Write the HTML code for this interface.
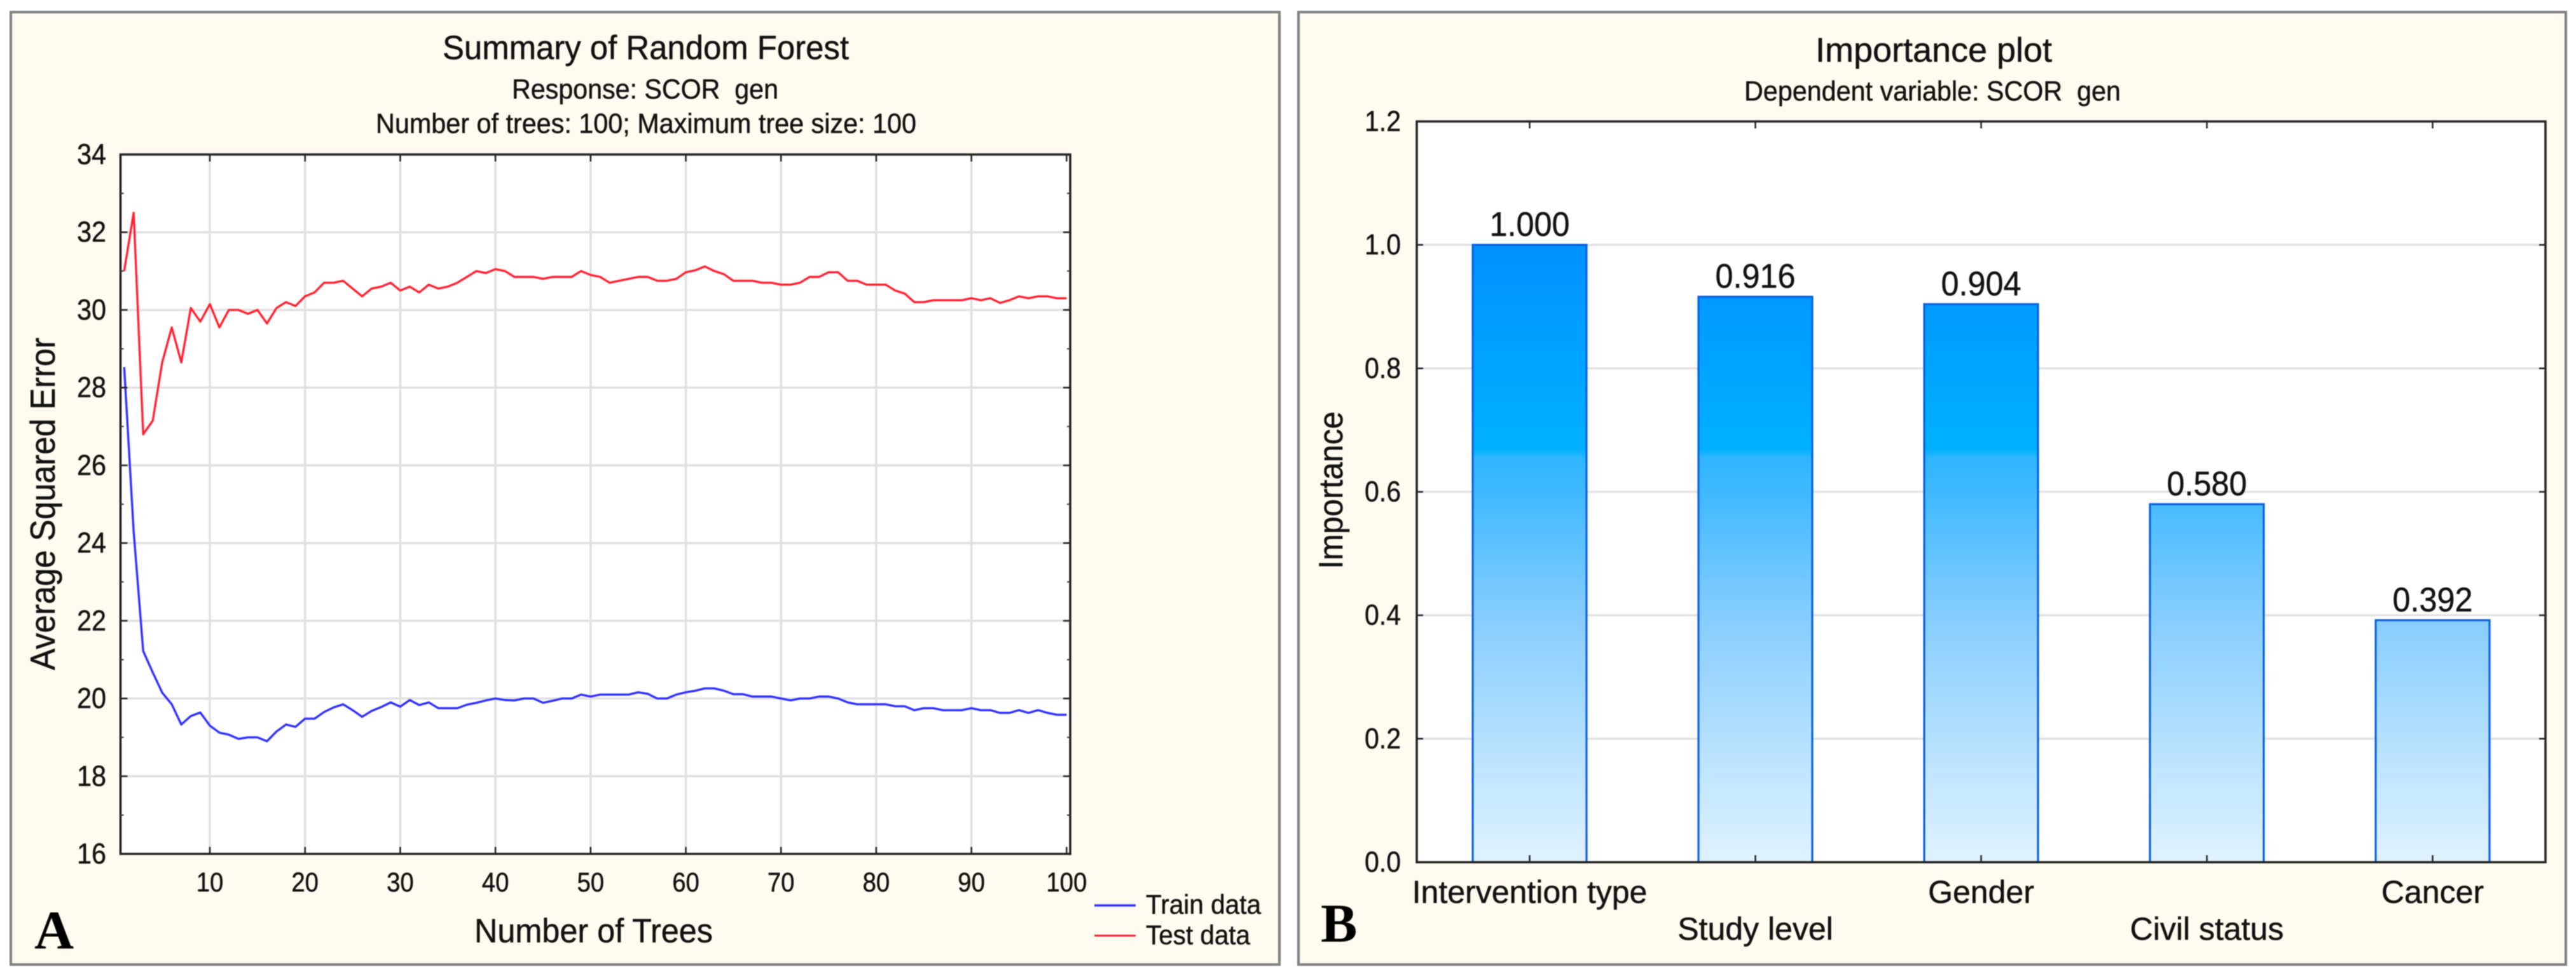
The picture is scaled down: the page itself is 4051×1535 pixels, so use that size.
<!DOCTYPE html>
<html lang="en">
<head>
<meta charset="utf-8">
<title>Random Forest Summary and Importance Plot</title>
<style>
html,body{margin:0;padding:0;background:#fff;width:4051px;height:1535px;overflow:hidden}
svg{display:block;filter:blur(0.7px)}
text{font-family:"Liberation Sans",Arial,sans-serif;fill:#111;stroke:#111;stroke-width:0.5px;white-space:pre}
.letter{font-family:"Liberation Serif","Times New Roman",serif;font-weight:bold;fill:#000;stroke:none}
</style>
</head>
<body>
<svg id="figure" xmlns="http://www.w3.org/2000/svg" width="4051" height="1535" viewBox="0 0 4051 1535">
  <defs>
    <linearGradient id="barGradient" gradientUnits="userSpaceOnUse" x1="0" y1="386" x2="0" y2="1356">
      <stop offset="0" stop-color="#0090ff"/>
      <stop offset="0.14" stop-color="#009fff"/>
      <stop offset="0.33" stop-color="#00b0ff"/>
      <stop offset="0.345" stop-color="#2fb5ff"/>
      <stop offset="0.40" stop-color="#40b9ff"/>
      <stop offset="0.60" stop-color="#85ccff"/>
      <stop offset="0.80" stop-color="#b4e0ff"/>
      <stop offset="1" stop-color="#e0f2ff"/>
    </linearGradient>
  </defs>

  <rect x="17" y="19" width="1995" height="1498" fill="#fffbf0" stroke="#808080" stroke-width="4"/>
  <rect x="2042" y="19" width="1993" height="1498" fill="#fffbf0" stroke="#808080" stroke-width="4"/>

  <rect x="189.5" y="243" width="1493.5" height="1100" fill="#fff"/>
  <rect x="2228" y="191" width="1775" height="1165" fill="#fff"/>

  <g id="chartA"></g>
  <g id="chartB"></g>

  <text x="696" y="93" font-size="53" textLength="639" lengthAdjust="spacingAndGlyphs">Summary of Random Forest</text>
  <text x="805" y="155" font-size="44" textLength="419" lengthAdjust="spacingAndGlyphs">Response: SCOR  gen</text>
  <text x="591" y="209" font-size="44" textLength="850" lengthAdjust="spacingAndGlyphs">Number of trees: 100; Maximum tree size: 100</text>
  <text transform="translate(86,1054) rotate(-90)" font-size="55" textLength="523" lengthAdjust="spacingAndGlyphs">Average Squared Error</text>
  <text x="746" y="1482" font-size="53" textLength="375" lengthAdjust="spacingAndGlyphs">Number of Trees</text>
  <text class="letter" x="54" y="1492" font-size="86">A</text>

  <g>
    <line x1="1721" x2="1786" y1="1424" y2="1424" stroke="#2f2fff" stroke-width="3.5"/>
    <text x="1802" y="1437" font-size="43" textLength="181" lengthAdjust="spacingAndGlyphs">Train data</text>
    <line x1="1721" x2="1786" y1="1471.5" y2="1471.5" stroke="#ff2233" stroke-width="3"/>
    <text x="1802" y="1485" font-size="43" textLength="164" lengthAdjust="spacingAndGlyphs">Test data</text>
  </g>

  <text x="2855" y="97" font-size="54" textLength="372" lengthAdjust="spacingAndGlyphs">Importance plot</text>
  <text x="2743" y="158" font-size="44" textLength="592" lengthAdjust="spacingAndGlyphs">Dependent variable: SCOR  gen</text>
  <text transform="translate(2111,895) rotate(-90)" font-size="53" textLength="248" lengthAdjust="spacingAndGlyphs">Importance</text>
  <text class="letter" x="2077" y="1481" font-size="86">B</text>
</svg>

<script>
// ---------- Panel A data ----------
const treeCounts = [1,2,3,4,5,6,7,8,9,10,11,12,13,14,15,16,17,18,19,20,21,22,23,24,25,26,27,28,29,30,31,32,33,34,35,36,37,38,39,40,41,42,43,44,45,46,47,48,49,50,51,52,53,54,55,56,57,58,59,60,61,62,63,64,65,66,67,68,69,70,71,72,73,74,75,76,77,78,79,80,81,82,83,84,85,86,87,88,89,90,91,92,93,94,95,96,97,98,99,100];
const trainError = [28.53,24.3,21.22,20.67,20.15,19.85,19.33,19.55,19.64,19.3,19.12,19.07,18.96,19.0,19.0,18.9,19.15,19.33,19.27,19.48,19.48,19.65,19.77,19.85,19.7,19.53,19.68,19.78,19.9,19.79,19.96,19.83,19.9,19.75,19.75,19.75,19.84,19.89,19.95,20.0,19.96,19.95,20.0,20.0,19.89,19.94,20.0,20.0,20.1,20.05,20.1,20.1,20.1,20.1,20.16,20.12,20.0,20.0,20.1,20.16,20.2,20.26,20.26,20.2,20.11,20.11,20.05,20.05,20.05,20.0,19.95,20.0,20.0,20.05,20.05,20.0,19.9,19.85,19.85,19.85,19.85,19.8,19.8,19.7,19.75,19.75,19.7,19.7,19.7,19.75,19.7,19.7,19.63,19.63,19.7,19.63,19.7,19.63,19.58,19.58];
const testError = [31.0,32.5,26.8,27.15,28.65,29.55,28.65,30.05,29.7,30.15,29.55,30.0,30.0,29.9,30.0,29.65,30.05,30.2,30.1,30.35,30.45,30.7,30.7,30.75,30.55,30.35,30.55,30.6,30.7,30.5,30.6,30.45,30.65,30.55,30.6,30.7,30.85,31.0,30.95,31.05,31.0,30.85,30.85,30.85,30.8,30.85,30.85,30.85,31.0,30.9,30.85,30.7,30.75,30.8,30.85,30.85,30.75,30.75,30.8,30.97,31.02,31.12,31.0,30.92,30.75,30.75,30.75,30.7,30.7,30.65,30.65,30.7,30.85,30.85,30.97,30.97,30.75,30.75,30.65,30.65,30.65,30.5,30.42,30.2,30.2,30.25,30.25,30.25,30.25,30.3,30.25,30.3,30.18,30.25,30.35,30.3,30.35,30.35,30.3,30.3];
const xTicksA = [10,20,30,40,50,60,70,80,90,100];
const yTicksA = [16,18,20,22,24,26,28,30,32,34];
const yMinorTicksA = [17,19,21,23,25,27,29,31,33];

// ---------- Panel B data ----------
const importanceCategories = ["Intervention type","Study level","Gender","Civil status","Cancer"];
const importanceValues = [1.000,0.916,0.904,0.580,0.392];
const importanceLabels = ["1.000","0.916","0.904","0.580","0.392"];
const yTicksB = [0,0.2,0.4,0.6,0.8,1.0,1.2];

const NS = "http://www.w3.org/2000/svg";
function make(tag, attrs, parent) {
  const el = document.createElementNS(NS, tag);
  for (const k in attrs) { el.setAttribute(k, attrs[k]); }
  parent.appendChild(el);
  return el;
}

// ---------- Panel A ----------
(function () {
  const root = document.getElementById("chartA");
  const left = 189.5, right = 1683, top = 243, bottom = 1343;
  const xScale = v => 330 + (v - 10) * 14.97;
  const yScale = v => bottom - (v - 16) * (bottom - top) / 18;

  xTicksA.forEach(v => {
    if (v < 100) {
      const g = make("line", {x1:xScale(v), x2:xScale(v), y1:top, y2:bottom, stroke:"#e0e0e0", "stroke-width":3.5}, root);
      
      
    }
  });
  yTicksA.forEach(v => {
    if (v > 16 && v < 34) {
      const g = make("line", {x1:left, x2:right, y1:yScale(v), y2:yScale(v), stroke:"#e0e0e0", "stroke-width":3.5}, root);
      
      
    }
  });

  const trainLine = make("polyline", {
    points: treeCounts.map((t, i) => xScale(t).toFixed(1) + "," + yScale(trainError[i]).toFixed(1)).join(" "),
    fill:"none", stroke:"#3030ff", "stroke-width":3.4, "stroke-linejoin":"round"
  }, root);
  
  

  const testLine = make("polyline", {
    points: treeCounts.map((t, i) => xScale(t).toFixed(1) + "," + yScale(testError[i]).toFixed(1)).join(" "),
    fill:"none", stroke:"#ff2233", "stroke-width":3.4, "stroke-linejoin":"round"
  }, root);
  
  

  const frame = make("rect", {x:left, y:top, width:right-left, height:bottom-top, fill:"none", stroke:"#222", "stroke-width":3.5}, root);
  
  

  xTicksA.forEach(v => {
    const x = xScale(v);
    const t1 = make("line", {x1:x, x2:x, y1:bottom, y2:bottom-11, stroke:"#222", "stroke-width":2.5}, root);
    
    
    const t2 = make("line", {x1:x, x2:x, y1:top, y2:top+11, stroke:"#222", "stroke-width":2.5}, root);
    
    
    const lab = make("text", {x:x, y:1402, "font-size":43, "text-anchor":"middle", textLength:String(v).length*21.3, lengthAdjust:"spacingAndGlyphs"}, root);
    lab.textContent = String(v);
    
    
  });
  yTicksA.forEach(v => {
    const y = yScale(v);
    const t1 = make("line", {x1:left, x2:left+11, y1:y, y2:y, stroke:"#222", "stroke-width":2.5}, root);
    
    
    const t2 = make("line", {x1:right, x2:right-11, y1:y, y2:y, stroke:"#222", "stroke-width":2.5}, root);
    
    
    const lab = make("text", {x:167, y:y+15, "font-size":45, "text-anchor":"end", textLength:String(v).length*23, lengthAdjust:"spacingAndGlyphs"}, root);
    lab.textContent = String(v);
    
    
  });
  yMinorTicksA.forEach(v => {
    const y = yScale(v);
    const t1 = make("line", {x1:left, x2:left+5, y1:y, y2:y, stroke:"#333", "stroke-width":2}, root);
    
    
    const t2 = make("line", {x1:right, x2:right-5, y1:y, y2:y, stroke:"#333", "stroke-width":2}, root);
    
    
  });
})();

// ---------- Panel B ----------
(function () {
  const root = document.getElementById("chartB");
  const left = 2228, right = 4003, top = 191, bottom = 1356;
  const band = (right - left) / importanceCategories.length;
  const barW = 179;
  const xCenter = i => left + band * (i + 0.5);
  const yScale = v => bottom - v * (bottom - top) / 1.2;

  yTicksB.forEach(v => {
    if (v > 0 && v < 1.2) {
      const g = make("line", {x1:left, x2:right, y1:yScale(v), y2:yScale(v), stroke:"#e2e2e2", "stroke-width":3.5}, root);
      
      
    }
  });

  importanceValues.forEach((v, i) => {
    const cx = xCenter(i);
    const bar = make("rect", {x:cx-barW/2, y:yScale(v), width:barW, height:bottom-yScale(v), fill:"url(#barGradient)", stroke:"#0a62dc", "stroke-width":3.2}, root);
    
    

    const val = make("text", {x:cx, y:yScale(v)-14, "font-size":54, "text-anchor":"middle", textLength:126, lengthAdjust:"spacingAndGlyphs"}, root);
    val.textContent = importanceLabels[i];
    
    

    const cat = make("text", {x:cx, y:(i % 2 === 0) ? 1420 : 1478, "font-size":50, "text-anchor":"middle"}, root);
    cat.textContent = importanceCategories[i];
    
    
  });

  const frame = make("rect", {x:left, y:top, width:right-left, height:bottom-top, fill:"none", stroke:"#222", "stroke-width":3.5}, root);
  
  

  importanceCategories.forEach((c, i) => {
    const x = xCenter(i);
    const t1 = make("line", {x1:x, x2:x, y1:bottom, y2:bottom-11, stroke:"#222", "stroke-width":2.5}, root);
    
    
    const t2 = make("line", {x1:x, x2:x, y1:top, y2:top+11, stroke:"#222", "stroke-width":2.5}, root);
    
    
  });

  yTicksB.forEach(v => {
    const y = yScale(v);
    const t1 = make("line", {x1:left, x2:left+10, y1:y, y2:y, stroke:"#222", "stroke-width":2.5}, root);
    
    
    const t2 = make("line", {x1:right, x2:right-10, y1:y, y2:y, stroke:"#222", "stroke-width":2.5}, root);
    
    
    const lab = make("text", {x:2203, y:y+15, "font-size":45, "text-anchor":"end", textLength:57, lengthAdjust:"spacingAndGlyphs"}, root);
    lab.textContent = v.toFixed(1);
    
    
  });
})();
</script>
</body>
</html>
